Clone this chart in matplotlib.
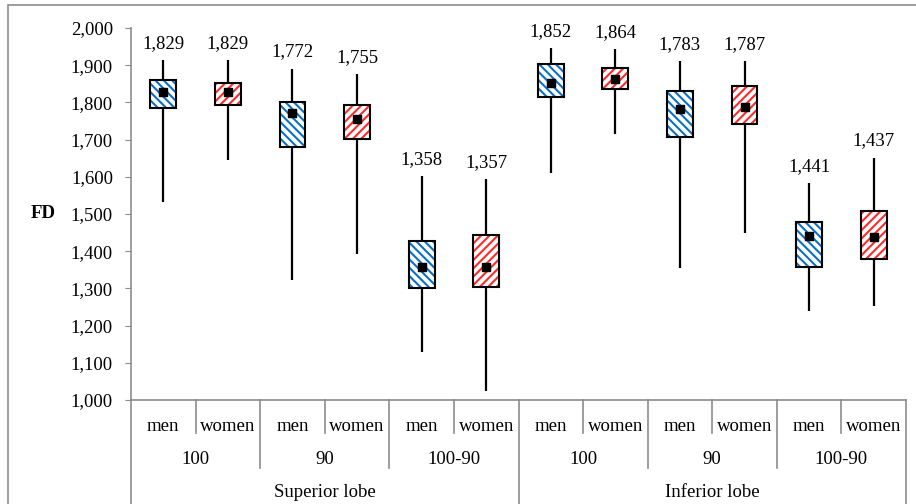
import matplotlib
matplotlib.use("Agg")
import matplotlib.pyplot as plt
from matplotlib.patches import Rectangle
import numpy as np

plt.rcParams['font.family'] = 'serif'
plt.rcParams['font.serif'] = ['Liberation Serif', 'DejaVu Serif']
plt.rcParams['hatch.linewidth'] = 1.5

# data
sexes = ['men', 'women'] * 6
groups = ['100', '90', '100-90', '100', '90', '100-90']
lobes = ['Superior lobe', 'Inferior lobe']
means = [1829, 1829, 1772, 1755, 1358, 1357, 1852, 1864, 1783, 1787, 1441, 1437]
box_top = [1860, 1852, 1801, 1793, 1427, 1444, 1903, 1892, 1831, 1844, 1478, 1508]
box_bottom = [1785, 1793, 1680, 1702, 1301, 1305, 1815, 1836, 1707, 1742, 1358, 1380]
whisker_max = [1914, 1914, 1890, 1876, 1602, 1594, 1946, 1943, 1911, 1911, 1583, 1651]
whisker_min = [1532, 1645, 1323, 1392, 1129, 1024, 1610, 1715, 1355, 1450, 1239, 1253]
yticks = list(range(1000, 2001, 100))

blue = '#0A70C4'
red = '#FF2A2A'
grey = '#8C8C8C'
serif = 'Liberation Serif'
fs = 13.5

fig = plt.figure(figsize=(9.16, 5.04), dpi=100)
ax = fig.add_axes([131 / 916, 104 / 504, 775 / 916, 372 / 504])

n = len(means)
x = np.arange(n)
ax.vlines(x, whisker_min, whisker_max, color='black', lw=1.6, zorder=1)

for i in range(n):
    col = blue if sexes[i] == 'men' else red
    hatch = '\\' * 4 if sexes[i] == 'men' else '/' * 4
    h = box_top[i] - box_bottom[i]
    # hatched fill, then black outline on top
    ax.bar(x[i], h, bottom=box_bottom[i], width=0.4, color='white',
           edgecolor=col, hatch=hatch, lw=0, zorder=2)
    ax.bar(x[i], h, bottom=box_bottom[i], width=0.4, color='none',
           edgecolor='black', lw=1.5, zorder=3)
    ax.annotate(f"{means[i]:,}", (x[i], whisker_max[i]), xytext=(0, 6),
                textcoords='offset points', ha='center', va='bottom',
                fontsize=fs, family=serif)

ax.scatter(x, means, marker='s', s=26, color='black', zorder=4)

ax.set_xlim(-0.5, n - 0.5)
ax.set_ylim(1000, 2000)
ax.set_yticks(yticks)
ax.set_yticklabels([f"{v:,}" for v in yticks], fontsize=fs, family=serif)
ax.tick_params(axis='y', length=4, color=grey, pad=9)
ax.set_xticks([])
for s in ['top', 'right']:
    ax.spines[s].set_visible(False)
for s in ['left', 'bottom']:
    ax.spines[s].set_color(grey)
    ax.spines[s].set_linewidth(1.2)

ax.text(-0.113, 0.5, 'FD', transform=ax.transAxes, ha='center', va='center',
        fontsize=fs, fontweight='bold', family=serif)

# category table under the axis
tr = ax.get_xaxis_transform()
for i in range(n):
    ax.text(x[i], -0.072, sexes[i], transform=tr, ha='center', va='center',
            fontsize=fs, family=serif)
for g in range(len(groups)):
    ax.text(2 * g + 0.5, -0.161, groups[g], transform=tr, ha='center', va='center',
            fontsize=fs, family=serif)
for l in range(len(lobes)):
    ax.text(6 * l + 2.5, -0.248, lobes[l], transform=tr, ha='center', va='center',
            fontsize=fs, family=serif)

for b in np.arange(0.5, n - 0.5, 1.0):
    if (b + 0.5) % 6 == 0:
        y_end = -0.3
    elif (b + 0.5) % 2 == 0:
        y_end = -0.183
    else:
        y_end = -0.089
    ax.plot([b, b], [0, y_end], transform=tr, color=grey, lw=1.2, clip_on=False)
for b in [-0.5, n - 0.5]:
    ax.plot([b, b], [0, -0.3], transform=tr, color=grey, lw=1.2, clip_on=False)

# chart area border (left and top visible)
fig.patches.append(Rectangle((8 / 916, -0.1), 1.2, (504 - 5) / 504 + 0.1,
                             transform=fig.transFigure, fill=False,
                             edgecolor=grey, lw=1.2))

plt.savefig('out.png', dpi=100)
plt.close(fig)
